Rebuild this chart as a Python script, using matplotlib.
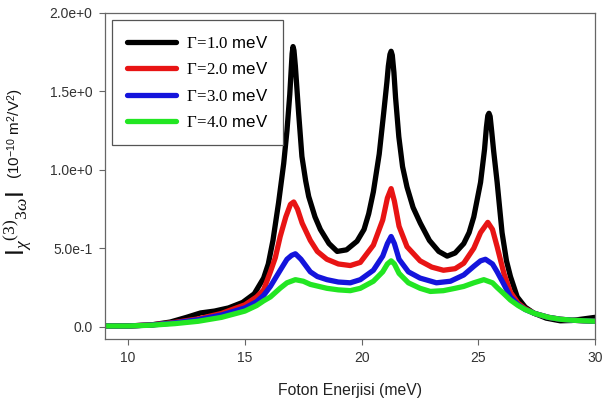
import matplotlib
matplotlib.use("Agg")
import matplotlib.pyplot as plt
from matplotlib.ticker import FixedLocator, FixedFormatter

plt.rcParams["font.family"] = ["Liberation Sans", "DejaVu Sans"]
plt.rcParams["mathtext.fontset"] = "custom"
plt.rcParams["mathtext.rm"] = "Liberation Serif"
plt.rcParams["mathtext.it"] = "Liberation Serif:italic"
plt.rcParams["mathtext.sf"] = "Liberation Sans"

# Photon energy (meV) and |chi(3)_3w| (1e-10 m^2/V^2) for each broadening
energy_g1 = [9.0, 10.0, 11.0, 11.8, 12.5, 13.1, 13.7, 14.3, 14.9, 15.4, 15.8, 16.0,
             16.2, 16.44, 16.66, 16.8, 16.92, 16.97, 17.02, 17.06, 17.1, 17.16, 17.22,
             17.3, 17.44, 17.6, 17.73, 18.0, 18.23, 18.6, 18.95, 19.35, 19.8, 20.1,
             20.3, 20.5, 20.75, 20.94, 21.08, 21.14, 21.21, 21.26, 21.31, 21.38, 21.45,
             21.59, 21.75, 21.94, 22.2, 22.51, 22.9, 23.3, 23.66, 24.0, 24.37, 24.6,
             24.8, 25.09, 25.26, 25.34, 25.40, 25.45, 25.50, 25.57, 25.65, 25.8, 26.01,
             26.2, 26.37, 26.66, 27.0, 27.37, 27.9, 28.5, 29.0, 29.5, 30.0]
chi_g1 = [0.005, 0.005, 0.012, 0.03, 0.06, 0.088, 0.10, 0.12, 0.155, 0.21, 0.31, 0.40,
          0.55, 0.79, 1.04, 1.25, 1.48, 1.61, 1.74, 1.785, 1.76, 1.66, 1.53,
          1.36, 1.085, 0.93, 0.83, 0.70, 0.62, 0.53, 0.48, 0.49, 0.545, 0.62,
          0.72, 0.86, 1.10, 1.36, 1.56, 1.66, 1.735, 1.755, 1.73, 1.62, 1.46,
          1.21, 1.02, 0.89, 0.76, 0.66, 0.55, 0.48, 0.45, 0.47, 0.53, 0.60,
          0.70, 0.92, 1.13, 1.27, 1.345, 1.36, 1.34, 1.24, 1.12, 0.92, 0.60,
          0.42, 0.32, 0.19, 0.125, 0.087, 0.055, 0.038, 0.040, 0.05, 0.06]

energy_g2 = [9.0, 10.0, 11.0, 12.0, 13.0, 14.0, 15.0, 15.5, 15.8, 16.09, 16.3, 16.51,
             16.75, 16.95, 17.09, 17.25, 17.45, 17.8, 18.1, 18.51, 19.0, 19.51, 19.94,
             20.5, 20.9, 21.1, 21.26, 21.4, 21.6, 21.94, 22.5, 23.0, 23.5, 24.0, 24.37,
             24.8, 25.09, 25.4, 25.6, 25.8, 26.09, 26.37, 26.7, 27.0, 27.4, 28.0, 28.5,
             29.0, 29.5, 30.0]
chi_g2 = [0.005, 0.005, 0.012, 0.028, 0.05, 0.085, 0.14, 0.19, 0.235, 0.35, 0.44, 0.575,
          0.70, 0.78, 0.795, 0.75, 0.66, 0.55, 0.48, 0.43, 0.40, 0.39, 0.41,
          0.52, 0.68, 0.82, 0.88, 0.80, 0.64, 0.51, 0.42, 0.38, 0.36, 0.37, 0.405,
          0.50, 0.60, 0.665, 0.62, 0.51, 0.34, 0.22, 0.15, 0.115, 0.085, 0.06, 0.048,
          0.042, 0.038, 0.035]

energy_g3 = [9.0, 10.0, 11.0, 12.0, 13.0, 14.0, 15.0, 15.5, 15.8, 16.09, 16.51, 16.8,
             17.0, 17.16, 17.4, 17.8, 18.1, 18.51, 19.0, 19.51, 19.94, 20.5, 20.9, 21.1,
             21.26, 21.4, 21.6, 22.0, 22.5, 23.2, 23.8, 24.37, 24.8, 25.09, 25.3, 25.6,
             25.8, 26.09, 26.37, 26.7, 27.0, 27.4, 28.0, 28.5, 29.0, 29.5, 30.0]
chi_g3 = [0.005, 0.005, 0.011, 0.025, 0.045, 0.075, 0.12, 0.16, 0.20, 0.257, 0.36, 0.43,
          0.455, 0.465, 0.43, 0.35, 0.32, 0.30, 0.285, 0.28, 0.30, 0.36, 0.45, 0.53,
          0.575, 0.53, 0.43, 0.35, 0.31, 0.28, 0.29, 0.33, 0.385, 0.42, 0.43, 0.40,
          0.35, 0.27, 0.19, 0.14, 0.11, 0.085, 0.06, 0.048, 0.042, 0.038, 0.035]

energy_g4 = [9.0, 10.0, 11.0, 12.0, 13.0, 14.0, 15.0, 15.5, 15.8, 16.09, 16.51, 16.8,
             17.16, 17.5, 17.8, 18.51, 19.0, 19.51, 19.94, 20.5, 20.9, 21.1, 21.26, 21.4,
             21.6, 22.0, 22.5, 22.94, 23.5, 24.0, 24.37, 24.8, 25.23, 25.6, 25.8, 26.09,
             26.37, 26.7, 27.0, 27.4, 28.0, 28.5, 29.0, 29.5, 30.0]
chi_g4 = [0.005, 0.005, 0.01, 0.02, 0.035, 0.06, 0.10, 0.135, 0.165, 0.19, 0.246, 0.28,
          0.30, 0.29, 0.27, 0.245, 0.235, 0.23, 0.245, 0.29, 0.35, 0.40, 0.42, 0.40,
          0.34, 0.28, 0.245, 0.225, 0.23, 0.245, 0.257, 0.28, 0.30, 0.28, 0.25, 0.21,
          0.17, 0.135, 0.11, 0.085, 0.06, 0.048, 0.042, 0.038, 0.035]

gamma_labels = [r"$\mathrm{\Gamma\!=\!1.0}$ meV", r"$\mathrm{\Gamma\!=\!2.0}$ meV",
                r"$\mathrm{\Gamma\!=\!3.0}$ meV", r"$\mathrm{\Gamma\!=\!4.0}$ meV"]
line_colors = ["#000000", "#e81414", "#1414dc", "#22e622"]

x_ticks = [10, 15, 20, 25, 30]
y_ticks = [0.0, 0.5, 1.0, 1.5, 2.0]
y_tick_labels = ["0.0", "5.0e-1", "1.0e+0", "1.5e+0", "2.0e+0"]

fig = plt.figure(figsize=(6.13, 4.01), dpi=100)
ax = fig.add_axes([0.171, 0.155, 0.800, 0.813])

series = [(energy_g1, chi_g1), (energy_g2, chi_g2), (energy_g3, chi_g3), (energy_g4, chi_g4)]
for (e, c), lab, col in zip(series, gamma_labels, line_colors):
    ax.plot(e, c, color=col, lw=3.8, label=lab, solid_joinstyle="round",
            solid_capstyle="round")

ax.set_xlim(9, 30)
ax.set_ylim(-0.077, 2.0)
ax.xaxis.set_major_locator(FixedLocator(x_ticks))
ax.yaxis.set_major_locator(FixedLocator(y_ticks))
ax.yaxis.set_major_formatter(FixedFormatter(y_tick_labels))

for sp in ax.spines.values():
    sp.set_color("#666666")
    sp.set_linewidth(0.9)
ax.tick_params(direction="out", length=4, width=0.8, color="#666666",
               labelsize=10, labelcolor="#333333", pad=5)

ax.set_xlabel("Foton Enerjisi (meV)", fontsize=11.3, color="#222222", labelpad=13)

fig.text(0.030, 0.443, r"$\mathsf{I}_{\chi}{}^{(3)}{}_{3\omega}\mathsf{I}$",
         rotation=90, fontsize=18, ha="center", va="center", color="#111111")
fig.text(0.026, 0.668, r"(10$^{\mathsf{-10}}$ m$^{\mathsf{2}}$/V$^{\mathsf{2}}$)",
         rotation=90, fontsize=11, ha="center", va="center", color="#111111")

leg = ax.legend(loc="upper left", fontsize=12.2, frameon=True, fancybox=False,
                edgecolor="#555555", framealpha=1, handlelength=2.9,
                handletextpad=0.6, labelspacing=0.62, borderpad=0.85,
                borderaxespad=0.45)
leg.get_frame().set_linewidth(0.9)

fig.savefig("out.png", dpi=100)
